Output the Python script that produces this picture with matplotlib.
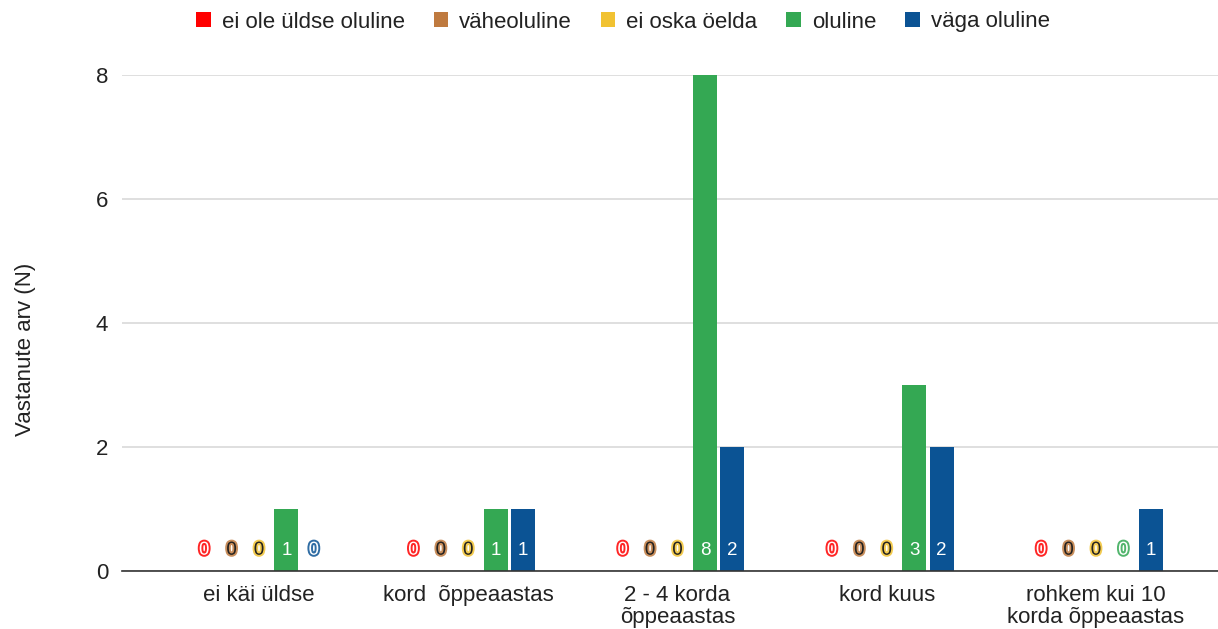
import numpy as np
import matplotlib.pyplot as plt
import matplotlib.patheffects as pe

categories = ["ei käi üldse", "kord  õppeaastas", "2 - 4 korda\nõppeaastas",
              "kord kuus", "rohkem kui 10\nkorda õppeaastas"]
series = ["ei ole üldse oluline", "väheoluline", "ei oska öelda", "oluline", "väga oluline"]
ei_ole = [0, 0, 0, 0, 0]
vahe = [0, 0, 0, 0, 0]
ei_oska = [0, 0, 0, 0, 0]
oluline = [1, 1, 8, 3, 0]
vaga = [0, 1, 2, 2, 1]
colors = ["#ff0000", "#bf7a3f", "#f1c232", "#34a853", "#0b5394"]
text_colors = ["white", "#222222", "#222222", "white", "white"]

values = [ei_ole, vahe, ei_oska, oluline, vaga]

plt.rcParams['font.family'] = ['Liberation Sans', 'DejaVu Sans']
fig = plt.figure(figsize=(12.18, 6.29), dpi=100)
# plot area: x 122..1218 px, y 75..571 px
ax = fig.add_axes([122 / 1218, 58 / 629, 1096 / 1218, 496 / 629])

x = np.arange(len(categories))
step = 0.131
width = 0.115
for i, (name, vals) in enumerate(zip(series, values)):
    pos = x + (i - 2) * step
    ax.bar(pos, vals, width, color=colors[i], label=name, zorder=3)
    for px, v in zip(pos, vals):
        t = ax.annotate(str(v), (px, 0), xytext=(0, 15), textcoords="offset points",
                        ha="center", va="center", fontsize=13.5,
                        color=text_colors[i], zorder=4)
        if v == 0:
            # zero bars: outlined label in series colour
            t.set_path_effects([pe.withStroke(linewidth=2.8, foreground=colors[i], alpha=0.85)])

ax.set_xlim(-0.655, 4.583)
ax.set_ylim(0, 8)
ax.set_yticks([0, 2, 4, 6, 8])
ax.set_xticks(x)
ax.set_xticklabels(categories, fontsize=16, color="#222222", linespacing=1.05)
ax.tick_params(axis="both", length=0, labelsize=16, labelcolor="#222222")
ax.tick_params(axis="y", pad=10)
ax.tick_params(axis="x", pad=10)
ax.grid(axis="y", color="#d9d9d9", linewidth=1.2, zorder=0)
for s in ["top", "right", "left"]:
    ax.spines[s].set_visible(False)
ax.spines["bottom"].set_color("#333333")
ax.spines["bottom"].set_linewidth(1.2)
ax.spines["bottom"].set_zorder(5)
ax.set_ylabel("Vastanute arv (N)", fontsize=16, color="#222222", va="center")
ax.yaxis.set_label_coords(-96 / 1096, 0.446)

fig.legend(*ax.get_legend_handles_labels(), loc="center",
           bbox_to_anchor=(623 / 1218, 1 - 22 / 629), ncol=5, frameon=False,
           fontsize=16, handlelength=0.65, handleheight=0.65, handletextpad=0.5,
           columnspacing=1.3, labelcolor="#222222")

fig.savefig("out.png", dpi=100)
